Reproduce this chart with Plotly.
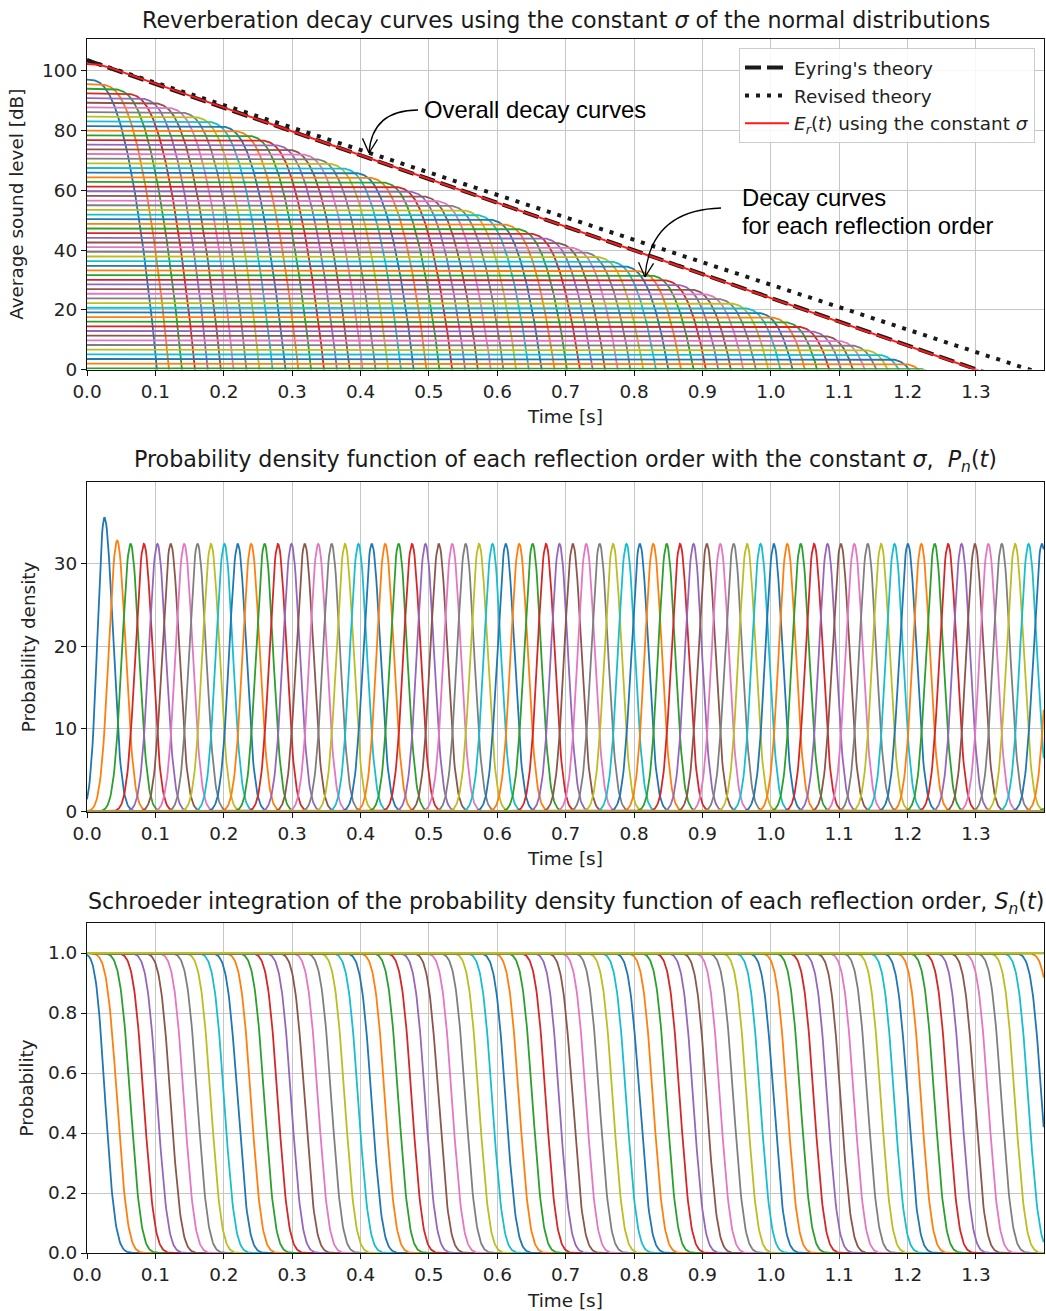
import math
import numpy as np
import plotly.graph_objects as go

# ---------------- data ----------------
t_step = 0.001          # time resolution of the curves [s]
t_max = 1.3995          # right end of the time axis [s]

orders = list(range(1, 80))
# mean arrival time of each reflection order [s]
order_means = [0.0255, 0.0441, 0.0637, 0.0833, 0.1029, 0.1225, 0.1421, 0.1617, 0.1813, 0.2009,
               0.2205, 0.2401, 0.2597, 0.2793, 0.2989, 0.3185, 0.3381, 0.3577, 0.3773, 0.3969,
               0.4165, 0.4361, 0.4557, 0.4753, 0.4949, 0.5145, 0.5341, 0.5537, 0.5733, 0.5929,
               0.6125, 0.6321, 0.6517, 0.6713, 0.6909, 0.7105, 0.7301, 0.7497, 0.7693, 0.7889,
               0.8085, 0.8281, 0.8477, 0.8673, 0.8869, 0.9065, 0.9261, 0.9457, 0.9653, 0.9849,
               1.0045, 1.0241, 1.0437, 1.0633, 1.0829, 1.1025, 1.1221, 1.1417, 1.1613, 1.1809,
               1.2005, 1.2201, 1.2397, 1.2593, 1.2789, 1.2985, 1.3181, 1.3377, 1.3573, 1.3769,
               1.3965, 1.4161, 1.4357, 1.4553, 1.4749, 1.4945, 1.5141, 1.5337, 1.5533]
# initial level of each reflection order [dB]
order_levels_db = [97.15, 95.59, 94.03, 92.47, 90.91, 89.35, 87.79, 86.23, 84.67, 83.11,
                   81.55, 79.98, 78.42, 76.86, 75.30, 73.74, 72.18, 70.62, 69.06, 67.50,
                   65.94, 64.38, 62.82, 61.26, 59.70, 58.14, 56.58, 55.02, 53.46, 51.90,
                   50.34, 48.78, 47.22, 45.65, 44.09, 42.53, 40.97, 39.41, 37.85, 36.29,
                   34.73, 33.17, 31.61, 30.05, 28.49, 26.93, 25.37, 23.81, 22.25, 20.69,
                   19.13, 17.57, 16.01, 14.45, 12.89, 11.33, 9.76, 8.20, 6.64, 5.08,
                   3.52, 1.96, 0.40, -1.16, -2.72, -4.28, -5.84, -7.40, -8.96, -10.52,
                   -12.08, -13.64, -15.20, -16.76, -18.32, -19.88, -21.44, -23.00, -24.56]
# spread of each distribution (left / right of the mean) [s]
sigma_left = [0.0101, 0.0120] + [0.0123] * 77
sigma_right = [0.0123] * 79

eyring_start_db = 103.6
eyring_rate_db_per_s = 79.6
revised_start_db = 103.6
revised_rate_db_per_s = 75.2

x_ticks = [0.0, 0.1, 0.2, 0.3, 0.4, 0.5, 0.6, 0.7, 0.8, 0.9, 1.0, 1.1, 1.2, 1.3]
y_ticks_top = [0, 20, 40, 60, 80, 100]
y_ticks_mid = [0, 10, 20, 30]
y_ticks_bot = [0.0, 0.2, 0.4, 0.6, 0.8, 1.0]

colors = ['#1f77b4', '#ff7f0e', '#2ca02c', '#d62728', '#9467bd',
          '#8c564b', '#e377c2', '#7f7f7f', '#bcbd22', '#17becf']

# ---------------- layout geometry ----------------
W, H = 1046, 1311
ML, MR, MT, MB = 87, 2, 39, 58


def px(x):
    return (x - ML) / (W - ML - MR)


def py(y):
    return (H - MB - y) / (H - MT - MB)


t = np.arange(0.0, 1.4, t_step)
n_pts = len(t)
erfc = np.vectorize(math.erfc)


def pdf_and_survival(mu, sl, sr):
    A = 2.0 / (math.sqrt(2 * math.pi) * (sl + sr))
    z = np.where(t < mu, (t - mu) / sl, (t - mu) / sr)
    p = A * np.exp(-0.5 * z * z)
    wl = 2 * sl / (sl + sr)
    wr = 2 * sr / (sl + sr)
    s_left = 1.0 - wl * 0.5 * erfc(-z / math.sqrt(2))
    s_right = wr * 0.5 * erfc(z / math.sqrt(2))
    s = np.where(t < mu, s_left, s_right)
    return p, s


fig = go.Figure()

pdfs, survs = [], []
for i, n in enumerate(orders):
    p, s = pdf_and_survival(order_means[i], sigma_left[i], sigma_right[i])
    pdfs.append(p)
    survs.append(s)

# overall decay curve
energy_sum = np.zeros(n_pts)
for i in range(len(orders)):
    energy_sum += 10 ** (order_levels_db[i] / 10) * survs[i]
er_db = 10 * np.log10(energy_sum)

LW = 1.8
# ---- top: decay curves for each order ----
for i, n in enumerate(orders):
    s = np.maximum(survs[i], 1e-300)
    db = order_levels_db[i] + 10 * np.log10(s)
    yv = [round(float(v), 3) if v > -20 else None for v in db]
    fig.add_trace(go.Scatter(x0=0, dx=t_step, y=yv, mode='lines',
                             line=dict(color=colors[i % 10], width=LW),
                             showlegend=False, hoverinfo='skip',
                             xaxis='x', yaxis='y'))

eyring = eyring_start_db - eyring_rate_db_per_s * t
revised = revised_start_db - revised_rate_db_per_s * t
fig.add_trace(go.Scatter(x0=0, dx=t_step, y=np.round(eyring, 3), mode='lines',
                         line=dict(color='#1a1a1a', width=4, dash='16px,6px'),
                         name="Eyring's theory", legendgroup='a',
                         xaxis='x', yaxis='y'))
fig.add_trace(go.Scatter(x0=0, dx=t_step, y=np.round(revised, 3), mode='lines',
                         line=dict(color='#1a1a1a', width=4, dash='4px,7px'),
                         name="Revised theory", legendgroup='b',
                         xaxis='x', yaxis='y'))
fig.add_trace(go.Scatter(x0=0, dx=t_step, y=np.round(er_db, 3), mode='lines',
                         line=dict(color='#ff1a1a', width=2),
                         name="<i>E<sub>r</sub></i>(<i>t</i>) using the constant <i>σ</i>",
                         legendgroup='c', xaxis='x', yaxis='y'))

# ---- middle: PDFs ----
for i, n in enumerate(orders):
    fig.add_trace(go.Scatter(x0=0, dx=t_step, y=np.round(pdfs[i], 3), mode='lines',
                             line=dict(color=colors[i % 10], width=LW),
                             showlegend=False, hoverinfo='skip',
                             xaxis='x2', yaxis='y2'))

# ---- bottom: Schroeder integration ----
for i, n in enumerate(orders):
    fig.add_trace(go.Scatter(x0=0, dx=t_step, y=np.round(survs[i], 4), mode='lines',
                             line=dict(color=colors[i % 10], width=LW),
                             showlegend=False, hoverinfo='skip',
                             xaxis='x3', yaxis='y3'))

FS = 18.4
tick_font = dict(family='DejaVu Sans', size=FS, color='#222222')
title_font = dict(family='DejaVu Sans', size=FS, color='#222222')


def xaxis(anchor):
    return dict(range=[0, t_max], tickvals=x_ticks, tickformat='.1f',
                showline=True, mirror=True, linecolor='#111111', linewidth=1.2,
                ticks='outside', ticklen=5, tickwidth=1, tickcolor='#111111',
                showgrid=True, gridcolor='#c6c6c6', gridwidth=1.3, zeroline=False,
                tickfont=tick_font, anchor=anchor, automargin=False,
                title=dict(text='Time [s]', font=title_font, standoff=9))


def yaxis(domain, rng, ticks, fmt, title, anchor, standoff):
    return dict(domain=domain, range=rng, tickvals=ticks, tickformat=fmt,
                showline=True, mirror=True, linecolor='#111111', linewidth=1.2,
                ticks='outside', ticklen=5, tickwidth=1, tickcolor='#111111',
                showgrid=True, gridcolor='#c6c6c6', gridwidth=1.3, zeroline=False,
                tickfont=tick_font, anchor=anchor, automargin=False,
                title=dict(text=title, font=title_font, standoff=standoff))


fig.update_layout(
    width=W, height=H,
    margin=dict(l=ML, r=MR, t=MT, b=MB),
    paper_bgcolor='white', plot_bgcolor='white',
    template='none',
    xaxis=xaxis('y'),
    xaxis2=xaxis('y2'),
    xaxis3=xaxis('y3'),
    yaxis=yaxis([py(369.5), 1.0], [0, 110.7], y_ticks_top, 'd',
                'Average sound level [dB]', 'x', 13),
    yaxis2=yaxis([py(811.5), py(482.3)], [0, 39.9], y_ticks_mid, 'd',
                 'Probability density', 'x2', 13),
    yaxis3=yaxis([0.0, py(923)], [0, 1.1], y_ticks_bot, '.1f', 'Probability', 'x3', 9),
    legend=dict(x=px(1035), y=py(48), xanchor='right', yanchor='top',
                bgcolor='rgba(255,255,255,0.85)', bordercolor='#cccccc', borderwidth=1,
                font=dict(family='DejaVu Sans', size=FS, color='#222222'),
                tracegroupgap=1, itemwidth=44),
)

# subplot titles
titles = [
    ("Reverberation decay curves using the constant <i>σ</i> of the normal distributions", 20),
    ("Probability density function of each reflection order with the constant <i>σ</i>,  "
     "<i>P<sub>n</sub></i>(<i>t</i>)", 461),
    ("Schroeder integration of the probability density function of each reflection order, "
     "<i>S<sub>n</sub></i>(<i>t</i>)", 903),
]
for text, ypix in titles:
    fig.add_annotation(x=px(565.5), y=py(ypix), xref='paper', yref='paper',
                       text=text, showarrow=False, xanchor='center', yanchor='middle',
                       font=dict(family='DejaVu Sans', size=22.2, color='#1a1a1a'))

# white boxes behind the call-out texts
for (x0, y0, x1, y1) in [(402, 83, 665, 142), (720, 165, 1012, 252)]:
    fig.add_shape(type='rect', xref='paper', yref='paper',
                  x0=px(x0), x1=px(x1), y0=py(y1), y1=py(y0),
                  fillcolor='white', line=dict(width=0), layer='between')

ann_font = dict(family='Liberation Sans, Arial', size=23.8, color='black')
fig.add_annotation(x=px(422), y=py(109), xref='paper', yref='paper', text='Overall decay curves',
                   showarrow=False, xanchor='left', yanchor='middle', font=ann_font)
fig.add_annotation(x=px(740), y=py(198), xref='paper', yref='paper', text='Decay curves',
                   showarrow=False, xanchor='left', yanchor='middle', font=ann_font)
fig.add_annotation(x=px(740), y=py(225), xref='paper', yref='paper', text='for each reflection order',
                   showarrow=False, xanchor='left', yanchor='middle', font=ann_font)


def curved_arrow(start, ctrl, tip):
    sx, sy = start
    cx, cy = ctrl
    tx, ty = tip
    path = f"M {px(sx)} {py(sy)} Q {px(cx)} {py(cy)} {px(tx)} {py(ty)}"
    fig.add_shape(type='path', path=path, xref='paper', yref='paper',
                  line=dict(color='black', width=1.3), layer='above')
    ang = math.atan2(ty - cy, tx - cx)
    L = 16
    for d in (math.radians(28), -math.radians(28)):
        ax = tx - L * math.cos(ang + d)
        ay = ty - L * math.sin(ang + d)
        fig.add_shape(type='line', xref='paper', yref='paper',
                      x0=px(tx), y0=py(ty), x1=px(ax), y1=py(ay),
                      line=dict(color='black', width=1.3), layer='above')


curved_arrow((418, 110), (372, 110), (369, 153))
curved_arrow((721, 208), (650, 210), (645, 277))

fig.write_html("out.html",
               config={'displayModeBar': False},
               post_script="document.body.style.margin='0px';document.body.style.padding='0px';")
